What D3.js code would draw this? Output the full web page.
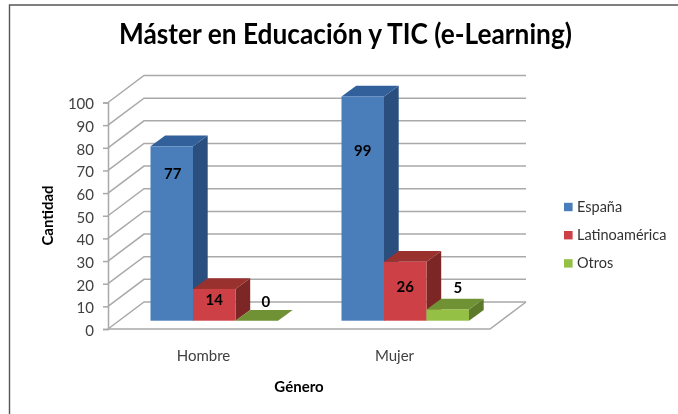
<!DOCTYPE html>
<html><head><meta charset="utf-8">
<script src="https://cdn.jsdelivr.net/npm/d3@7"></script>
<style>
html,body{margin:0;padding:0;background:#fff}
svg{display:block}
text{font-family:Lato,"Open Sans",sans-serif;fill:#000}
</style></head><body>
<svg id="c" width="678" height="414"></svg>
<script>
const titleText = "Máster en Educación y TIC (e-Learning)";
const xTitle = "Género";
const yTitle = "Cantidad";
const categories = ["Hombre","Mujer"];
const seriesNames = ["España","Latinoamérica","Otros"];
const espana = [77,99];
const latino = [14,26];
const otros = [0,5];
const yTicks = [0,10,20,30,40,50,60,70,80,90,100];
const colFront = ["#4a7ebb","#cd4044","#94c044"];
const colTop = ["#33619a","#99302f","#6f9234"];
const colSide = ["#2a4f7e","#7d2626","#5b7a2a"];

const values = [espana,latino,otros];
const svg = d3.select("#c");
const soft = svg.append("defs").append("filter").attr("id","soft")
  .attr("x","-5%").attr("y","-5%").attr("width","110%").attr("height","110%");
soft.append("feGaussianBlur").attr("stdDeviation",0.5);
const g = svg.append("g").attr("filter","url(#soft)");
g.append("rect").attr("width",678).attr("height",414).attr("fill","#fff");

// picture frame
g.append("path").attr("d","M9.5,414V5H678").attr("fill","none").attr("stroke","#555").attr("stroke-width",1.4);

const wall = {x0:108,x1:490,dx:36,dy:-27};
const grid = "#a9a9a9", tickInk = "#404040";
const y = d3.scaleLinear().domain([0,100]).range([329,102.5]);
const x0 = d3.scaleBand().domain(categories).range([wall.x0,wall.x1]);
const barW = 42.5, bdx = 14.7, bdy = -10.7, barInset = barW, floorLift = 8.3;
const xs = d3.scaleBand().domain(seriesNames).range([0,barW*seriesNames.length]);

// walls and floor
yTicks.forEach(t=>{
  const yy=y(t);
  g.append("path").attr("d",`M${wall.x0},${yy}L${wall.x0+wall.dx},${yy+wall.dy}H${wall.x1+wall.dx}`)
    .attr("fill","none").attr("stroke",grid).attr("stroke-width",1.5);
});
g.append("path").attr("d",`M${wall.x0},${y(0)}H${wall.x1}L${wall.x1+wall.dx},${y(0)+wall.dy}`)
  .attr("fill","none").attr("stroke",grid).attr("stroke-width",1.5);

// value axis
const yAxis = g.append("g").attr("transform",`translate(${wall.x0},0)`)
  .call(d3.axisLeft(y).tickValues(yTicks).tickSize(5).tickPadding(9).tickFormat(d3.format("d")));
yAxis.selectAll("path,line").attr("stroke",grid).attr("stroke-width",1.5);
yAxis.selectAll("text").attr("font-size",15).attr("dy","0.42em").style("fill",tickInk).attr("font-family","Lato");

// bars
values.forEach((vals,s)=>{
  categories.forEach((c,i)=>{
    const left=x0(c)+barInset+xs(seriesNames[s]), r=left+xs.bandwidth();
    const bot=y(0)-floorLift, top=y(vals[i])-floorLift;
    const b=g.append("g");
    b.append("path").attr("d",`M${r},${top}L${r+bdx},${top+bdy}V${bot+bdy}L${r},${bot}Z`).attr("fill",colSide[s]);
    b.append("path").attr("d",`M${left},${top}L${left+bdx},${top+bdy}H${r+bdx}L${r},${top}Z`).attr("fill",colTop[s]);
    if(vals[i]>0) b.append("rect").attr("x",left).attr("y",top).attr("width",barW).attr("height",bot-top).attr("fill",colFront[s]);
  });
});

// data labels: [dx from bar centre, dy from bar top] per series/category
const labelShift = [[[1,33],[0,59.5]],[[0,16],[0,29.7]],[[9,-14],[10,-16.5]]];
values.forEach((vals,s)=>{
  categories.forEach((c,i)=>{
    const cx=x0(c)+barInset+xs(seriesNames[s])+barW/2;
    const [dx,dy]=labelShift[s][i];
    g.append("text").attr("x",cx+dx).attr("y",y(vals[i])-floorLift+dy).attr("text-anchor","middle")
      .attr("font-size",15).attr("font-weight",700).text(vals[i]);
  });
});

// category axis
const xAxis = g.append("g").attr("transform",`translate(0,${y(0)})`)
  .call(d3.axisBottom(x0).tickSize(0).tickPadding(21));
xAxis.select(".domain").remove();
xAxis.selectAll("text").attr("font-size",15).attr("font-family","Lato").style("fill",tickInk);

g.append("text").attr("x",299).attr("y",391.5).attr("text-anchor","middle").attr("font-size",15).attr("font-weight",700).text(xTitle);
g.append("text").attr("transform","translate(53,215.5) rotate(-90)").attr("text-anchor","middle").attr("font-size",15).attr("font-weight",700).text(yTitle);
g.append("text").attr("x",345.5).attr("y",44).attr("text-anchor","middle").attr("font-size",28).attr("font-weight",700)
  .attr("textLength",453).attr("lengthAdjust","spacingAndGlyphs").text(titleText);

// legend
const legY = d3.scalePoint().domain(seriesNames).range([207,263.4]);
seriesNames.forEach((n,i)=>{
  const yy=legY(n);
  g.append("rect").attr("x",564).attr("y",yy-4.2).attr("width",8.6).attr("height",8.4).attr("fill",colFront[i]);
  g.append("text").attr("x",577).attr("y",yy+4.8).attr("font-size",14.5).style("fill","#333").text(n);
});
</script></body></html>
